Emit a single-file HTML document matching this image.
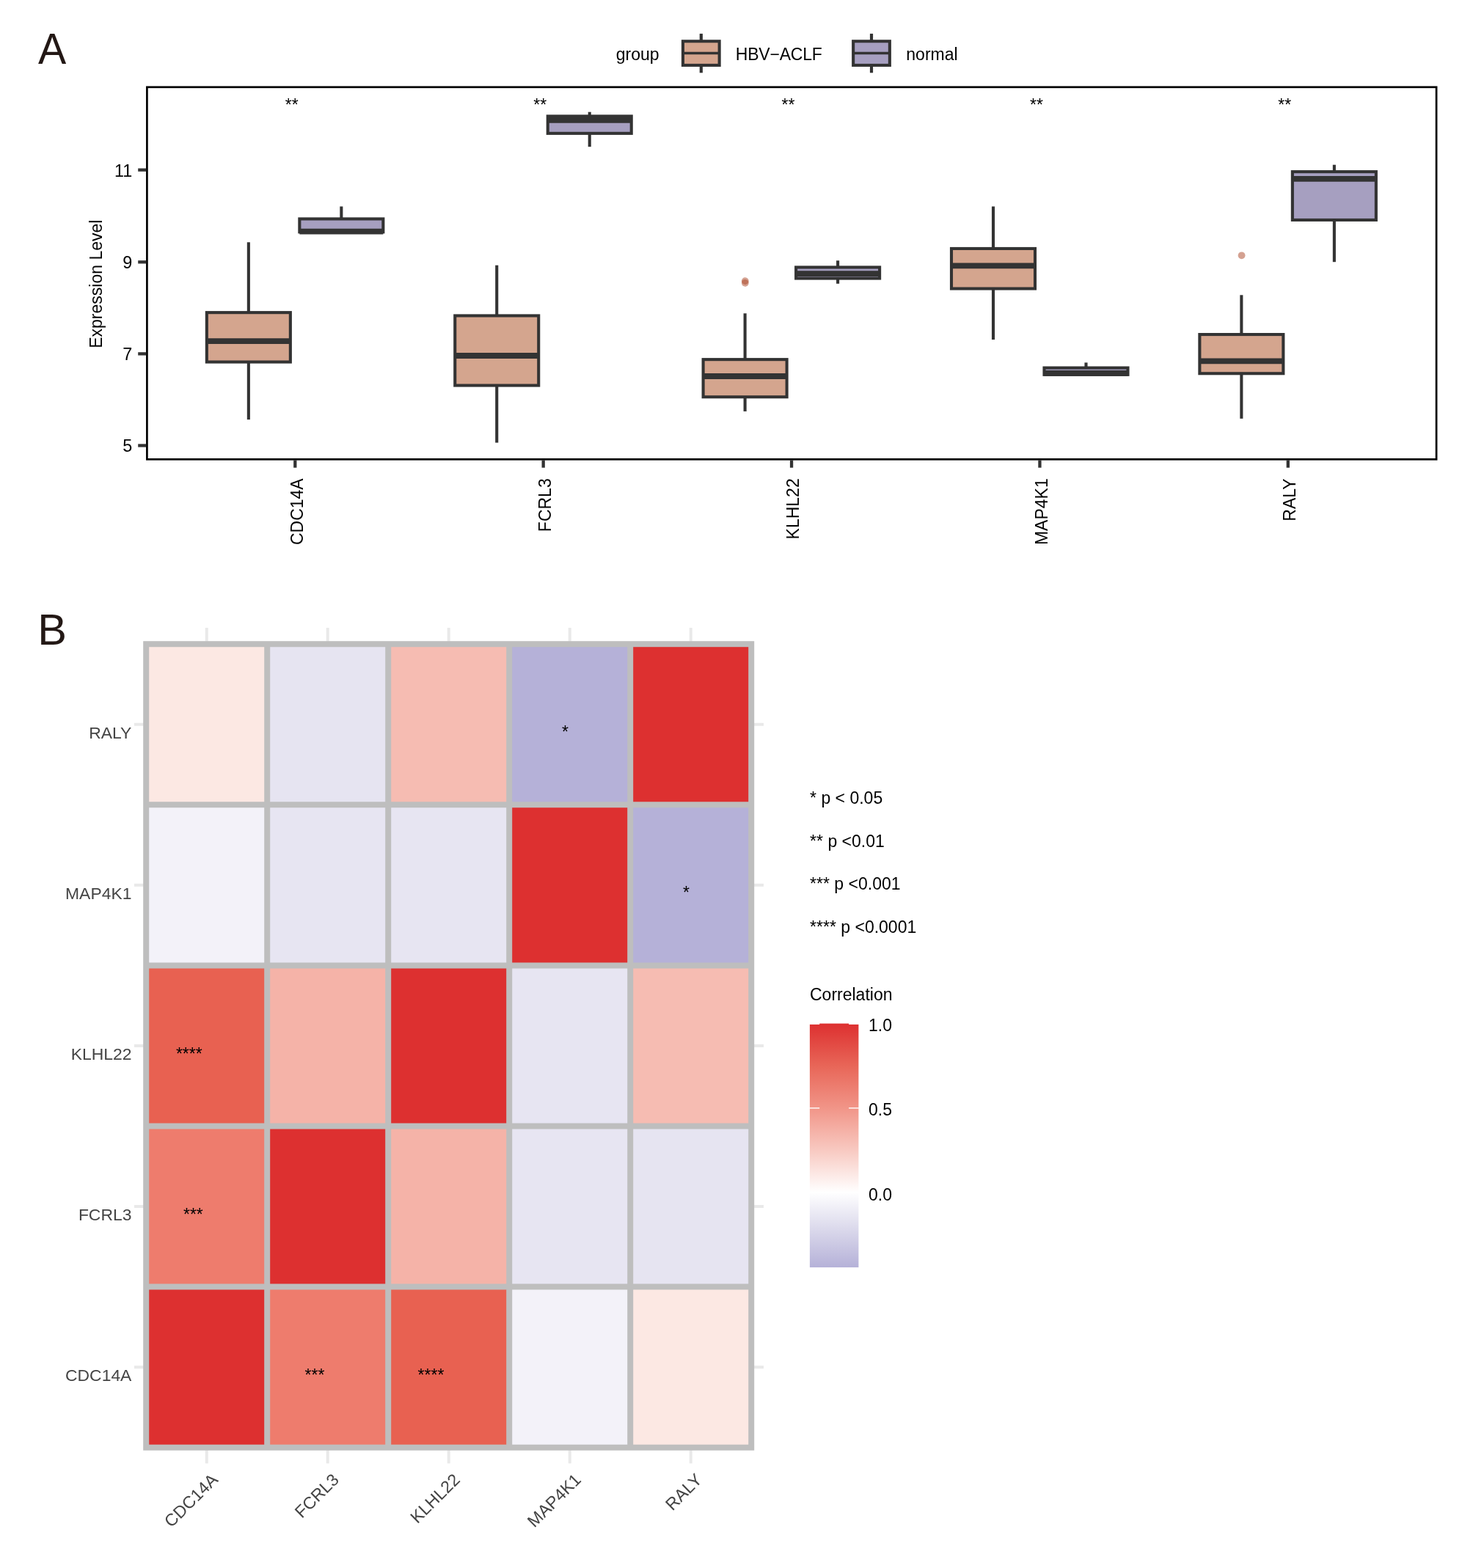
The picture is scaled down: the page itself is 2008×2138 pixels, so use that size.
<!DOCTYPE html>
<html lang="en">
<head>
<meta charset="utf-8">
<title>Figure</title>
<style>html,body{margin:0;padding:0;background:#fff;}body{width:2008px;height:2138px;}svg{display:block;}</style>
</head>
<body>
<svg width="2008" height="2138" viewBox="0 0 2008 2138" font-family='"Liberation Sans", sans-serif' font-size="23.0">
<rect width="2008" height="2138" fill="#ffffff"/>
<text transform="translate(51.9,87.3) scale(0.96,1)" font-size="59.8" fill="#231815">A</text>
<text x="51.3" y="878.6" font-size="59.6" fill="#231815">B</text>
<text x="839.8" y="82.3" fill="#000">group</text>
<line x1="955.8" y1="45.9" x2="955.8" y2="99.3" stroke="#333333" stroke-width="4.2"/>
<rect x="930.95" y="56.25" width="49.7" height="32.7" fill="#D4A58E" stroke="#333333" stroke-width="4.1"/>
<line x1="930.95" y1="72.5" x2="980.65" y2="72.5" stroke="#333333" stroke-width="3.4"/>
<line x1="1188.0" y1="45.9" x2="1188.0" y2="99.3" stroke="#333333" stroke-width="4.2"/>
<rect x="1163.15" y="56.25" width="49.7" height="32.7" fill="#A69FC0" stroke="#333333" stroke-width="4.1"/>
<line x1="1163.15" y1="72.5" x2="1212.85" y2="72.5" stroke="#333333" stroke-width="3.4"/>
<text x="1002.8" y="82.3" letter-spacing="-0.2" fill="#000">HBV−ACLF</text>
<text x="1235.3" y="82.3" fill="#000">normal</text>
<line x1="338.85" y1="330.3" x2="338.85" y2="426.15" stroke="#333333" stroke-width="4.1"/>
<line x1="338.85" y1="493.55" x2="338.85" y2="572.1" stroke="#333333" stroke-width="4.1"/>
<rect x="281.85" y="426.15" width="114.0" height="67.40" fill="#D4A58E" stroke="#333333" stroke-width="4.1"/>
<line x1="281.85" y1="465.2" x2="395.85" y2="465.2" stroke="#333333" stroke-width="7.8"/>
<line x1="465.35" y1="281.5" x2="465.35" y2="298.45" stroke="#333333" stroke-width="4.1"/>
<rect x="408.35" y="298.45" width="114.0" height="17.90" fill="#A69FC0" stroke="#333333" stroke-width="4.1"/>
<line x1="408.35" y1="315.6" x2="522.35" y2="315.6" stroke="#333333" stroke-width="7.8"/>
<line x1="677.23" y1="361.7" x2="677.23" y2="430.45" stroke="#333333" stroke-width="4.1"/>
<line x1="677.23" y1="525.55" x2="677.23" y2="603.6" stroke="#333333" stroke-width="4.1"/>
<rect x="620.23" y="430.45" width="114.0" height="95.10" fill="#D4A58E" stroke="#333333" stroke-width="4.1"/>
<line x1="620.23" y1="485.0" x2="734.23" y2="485.0" stroke="#333333" stroke-width="7.8"/>
<line x1="803.73" y1="152.7" x2="803.73" y2="158.45" stroke="#333333" stroke-width="4.1"/>
<line x1="803.73" y1="181.85" x2="803.73" y2="200.1" stroke="#333333" stroke-width="4.1"/>
<rect x="746.73" y="158.45" width="114.0" height="23.40" fill="#A69FC0" stroke="#333333" stroke-width="4.1"/>
<line x1="746.73" y1="163.8" x2="860.73" y2="163.8" stroke="#333333" stroke-width="7.8"/>
<line x1="1015.61" y1="427.3" x2="1015.61" y2="490.15" stroke="#333333" stroke-width="4.1"/>
<line x1="1015.61" y1="541.25" x2="1015.61" y2="560.9" stroke="#333333" stroke-width="4.1"/>
<rect x="958.61" y="490.15" width="114.0" height="51.10" fill="#D4A58E" stroke="#333333" stroke-width="4.1"/>
<line x1="958.61" y1="513.0" x2="1072.61" y2="513.0" stroke="#333333" stroke-width="7.8"/>
<line x1="1142.11" y1="355.3" x2="1142.11" y2="364.45" stroke="#333333" stroke-width="4.1"/>
<line x1="1142.11" y1="379.55" x2="1142.11" y2="386.8" stroke="#333333" stroke-width="4.1"/>
<rect x="1085.11" y="364.45" width="114.0" height="15.10" fill="#A69FC0" stroke="#333333" stroke-width="4.1"/>
<line x1="1085.11" y1="373.2" x2="1199.11" y2="373.2" stroke="#333333" stroke-width="7.8"/>
<line x1="1353.99" y1="281.5" x2="1353.99" y2="338.95" stroke="#333333" stroke-width="4.1"/>
<line x1="1353.99" y1="393.55" x2="1353.99" y2="463.1" stroke="#333333" stroke-width="4.1"/>
<rect x="1296.99" y="338.95" width="114.0" height="54.60" fill="#D4A58E" stroke="#333333" stroke-width="4.1"/>
<line x1="1296.99" y1="362.3" x2="1410.99" y2="362.3" stroke="#333333" stroke-width="7.8"/>
<line x1="1480.49" y1="494.4" x2="1480.49" y2="501.55" stroke="#333333" stroke-width="4.1"/>
<rect x="1423.49" y="501.55" width="114.0" height="9.30" fill="#A69FC0" stroke="#333333" stroke-width="4.1"/>
<line x1="1423.49" y1="508.9" x2="1537.49" y2="508.9" stroke="#333333" stroke-width="7.8"/>
<line x1="1692.37" y1="402.3" x2="1692.37" y2="456.05" stroke="#333333" stroke-width="4.1"/>
<line x1="1692.37" y1="509.25" x2="1692.37" y2="570.8" stroke="#333333" stroke-width="4.1"/>
<rect x="1635.37" y="456.05" width="114.0" height="53.20" fill="#D4A58E" stroke="#333333" stroke-width="4.1"/>
<line x1="1635.37" y1="492.4" x2="1749.37" y2="492.4" stroke="#333333" stroke-width="7.8"/>
<line x1="1818.87" y1="224.7" x2="1818.87" y2="234.15" stroke="#333333" stroke-width="4.1"/>
<line x1="1818.87" y1="299.95" x2="1818.87" y2="357.2" stroke="#333333" stroke-width="4.1"/>
<rect x="1761.87" y="234.15" width="114.0" height="65.80" fill="#A69FC0" stroke="#333333" stroke-width="4.1"/>
<line x1="1761.87" y1="243.9" x2="1875.87" y2="243.9" stroke="#333333" stroke-width="7.8"/>
<circle cx="1015.8" cy="383.1" r="4.9" fill="#AA4424" fill-opacity="0.5"/>
<circle cx="1015.8" cy="385.8" r="4.9" fill="#AA4424" fill-opacity="0.5"/>
<circle cx="1692.6" cy="348.3" r="4.9" fill="#AA4424" fill-opacity="0.5"/>
<text x="397.80" y="150.8" text-anchor="middle" fill="#000">**</text>
<text x="736.18" y="150.8" text-anchor="middle" fill="#000">**</text>
<text x="1074.56" y="150.8" text-anchor="middle" fill="#000">**</text>
<text x="1412.94" y="150.8" text-anchor="middle" fill="#000">**</text>
<text x="1751.32" y="150.8" text-anchor="middle" fill="#000">**</text>
<rect x="200.4" y="118.8" width="1757.70" height="507.50" fill="none" stroke="#000" stroke-width="2.7"/>
<line x1="188.2" y1="231.7" x2="199.3" y2="231.7" stroke="#333333" stroke-width="4.3"/>
<text x="180.3" y="240.60" text-anchor="end" font-size="23.4" fill="#000">11</text>
<line x1="188.2" y1="357.3" x2="199.3" y2="357.3" stroke="#333333" stroke-width="4.3"/>
<text x="180.3" y="366.20" text-anchor="end" font-size="23.4" fill="#000">9</text>
<line x1="188.2" y1="482.4" x2="199.3" y2="482.4" stroke="#333333" stroke-width="4.3"/>
<text x="180.3" y="491.30" text-anchor="end" font-size="23.4" fill="#000">7</text>
<line x1="188.2" y1="607.5" x2="199.3" y2="607.5" stroke="#333333" stroke-width="4.3"/>
<text x="180.3" y="616.40" text-anchor="end" font-size="23.4" fill="#000">5</text>
<text transform="translate(138.5,387.2) rotate(-90)" text-anchor="middle" fill="#000">Expression Level</text>
<line x1="402.30" y1="627.4" x2="402.30" y2="637.7" stroke="#333333" stroke-width="4.3"/>
<text transform="translate(412.60,652.3) rotate(-90)" text-anchor="end" fill="#000">CDC14A</text>
<line x1="740.68" y1="627.4" x2="740.68" y2="637.7" stroke="#333333" stroke-width="4.3"/>
<text transform="translate(750.98,652.3) rotate(-90)" text-anchor="end" fill="#000">FCRL3</text>
<line x1="1079.06" y1="627.4" x2="1079.06" y2="637.7" stroke="#333333" stroke-width="4.3"/>
<text transform="translate(1089.36,652.3) rotate(-90)" text-anchor="end" fill="#000">KLHL22</text>
<line x1="1417.44" y1="627.4" x2="1417.44" y2="637.7" stroke="#333333" stroke-width="4.3"/>
<text transform="translate(1427.74,652.3) rotate(-90)" text-anchor="end" fill="#000">MAP4K1</text>
<line x1="1755.82" y1="627.4" x2="1755.82" y2="637.7" stroke="#333333" stroke-width="4.3"/>
<text transform="translate(1766.12,652.3) rotate(-90)" text-anchor="end" fill="#000">RALY</text>
<line x1="281.70" y1="856.0" x2="281.70" y2="875" stroke="#E9E9E9" stroke-width="4.0"/>
<line x1="281.70" y1="1977" x2="281.70" y2="1995.4" stroke="#E9E9E9" stroke-width="4.0"/>
<line x1="446.70" y1="856.0" x2="446.70" y2="875" stroke="#E9E9E9" stroke-width="4.0"/>
<line x1="446.70" y1="1977" x2="446.70" y2="1995.4" stroke="#E9E9E9" stroke-width="4.0"/>
<line x1="611.70" y1="856.0" x2="611.70" y2="875" stroke="#E9E9E9" stroke-width="4.0"/>
<line x1="611.70" y1="1977" x2="611.70" y2="1995.4" stroke="#E9E9E9" stroke-width="4.0"/>
<line x1="776.70" y1="856.0" x2="776.70" y2="875" stroke="#E9E9E9" stroke-width="4.0"/>
<line x1="776.70" y1="1977" x2="776.70" y2="1995.4" stroke="#E9E9E9" stroke-width="4.0"/>
<line x1="941.70" y1="856.0" x2="941.70" y2="875" stroke="#E9E9E9" stroke-width="4.0"/>
<line x1="941.70" y1="1977" x2="941.70" y2="1995.4" stroke="#E9E9E9" stroke-width="4.0"/>
<line x1="183.0" y1="987.75" x2="196" y2="987.75" stroke="#E9E9E9" stroke-width="4.0"/>
<line x1="1028" y1="987.75" x2="1041.0" y2="987.75" stroke="#E9E9E9" stroke-width="4.0"/>
<line x1="183.0" y1="1206.85" x2="196" y2="1206.85" stroke="#E9E9E9" stroke-width="4.0"/>
<line x1="1028" y1="1206.85" x2="1041.0" y2="1206.85" stroke="#E9E9E9" stroke-width="4.0"/>
<line x1="183.0" y1="1425.95" x2="196" y2="1425.95" stroke="#E9E9E9" stroke-width="4.0"/>
<line x1="1028" y1="1425.95" x2="1041.0" y2="1425.95" stroke="#E9E9E9" stroke-width="4.0"/>
<line x1="183.0" y1="1645.05" x2="196" y2="1645.05" stroke="#E9E9E9" stroke-width="4.0"/>
<line x1="1028" y1="1645.05" x2="1041.0" y2="1645.05" stroke="#E9E9E9" stroke-width="4.0"/>
<line x1="183.0" y1="1864.15" x2="196" y2="1864.15" stroke="#E9E9E9" stroke-width="4.0"/>
<line x1="1028" y1="1864.15" x2="1041.0" y2="1864.15" stroke="#E9E9E9" stroke-width="4.0"/>
<rect x="199.20" y="878.20" width="165.0" height="219.1" fill="#FCE8E3"/>
<rect x="364.20" y="878.20" width="165.0" height="219.1" fill="#E6E4F1"/>
<rect x="529.20" y="878.20" width="165.0" height="219.1" fill="#F6BCB2"/>
<rect x="694.20" y="878.20" width="165.0" height="219.1" fill="#B5B1D8"/>
<rect x="859.20" y="878.20" width="165.0" height="219.1" fill="#DD3030"/>
<rect x="199.20" y="1097.30" width="165.0" height="219.1" fill="#F3F2F9"/>
<rect x="364.20" y="1097.30" width="165.0" height="219.1" fill="#E7E5F2"/>
<rect x="529.20" y="1097.30" width="165.0" height="219.1" fill="#E7E5F2"/>
<rect x="694.20" y="1097.30" width="165.0" height="219.1" fill="#DD3030"/>
<rect x="859.20" y="1097.30" width="165.0" height="219.1" fill="#B5B1D8"/>
<rect x="199.20" y="1316.40" width="165.0" height="219.1" fill="#E86151"/>
<rect x="364.20" y="1316.40" width="165.0" height="219.1" fill="#F5B3A8"/>
<rect x="529.20" y="1316.40" width="165.0" height="219.1" fill="#DD3030"/>
<rect x="694.20" y="1316.40" width="165.0" height="219.1" fill="#E7E5F2"/>
<rect x="859.20" y="1316.40" width="165.0" height="219.1" fill="#F6BCB2"/>
<rect x="199.20" y="1535.50" width="165.0" height="219.1" fill="#EE7C6D"/>
<rect x="364.20" y="1535.50" width="165.0" height="219.1" fill="#DD3030"/>
<rect x="529.20" y="1535.50" width="165.0" height="219.1" fill="#F5B3A8"/>
<rect x="694.20" y="1535.50" width="165.0" height="219.1" fill="#E7E5F2"/>
<rect x="859.20" y="1535.50" width="165.0" height="219.1" fill="#E6E4F1"/>
<rect x="199.20" y="1754.60" width="165.0" height="219.1" fill="#DD3030"/>
<rect x="364.20" y="1754.60" width="165.0" height="219.1" fill="#EE7C6D"/>
<rect x="529.20" y="1754.60" width="165.0" height="219.1" fill="#E86151"/>
<rect x="694.20" y="1754.60" width="165.0" height="219.1" fill="#F3F2F9"/>
<rect x="859.20" y="1754.60" width="165.0" height="219.1" fill="#FCE8E3"/>
<line x1="364.20" y1="878.20" x2="364.20" y2="1973.70" stroke="#BEBEBE" stroke-width="8.0"/>
<line x1="529.20" y1="878.20" x2="529.20" y2="1973.70" stroke="#BEBEBE" stroke-width="8.0"/>
<line x1="694.20" y1="878.20" x2="694.20" y2="1973.70" stroke="#BEBEBE" stroke-width="8.0"/>
<line x1="859.20" y1="878.20" x2="859.20" y2="1973.70" stroke="#BEBEBE" stroke-width="8.0"/>
<line x1="199.20" y1="1097.30" x2="1024.20" y2="1097.30" stroke="#BEBEBE" stroke-width="8.0"/>
<line x1="199.20" y1="1316.40" x2="1024.20" y2="1316.40" stroke="#BEBEBE" stroke-width="8.0"/>
<line x1="199.20" y1="1535.50" x2="1024.20" y2="1535.50" stroke="#BEBEBE" stroke-width="8.0"/>
<line x1="199.20" y1="1754.60" x2="1024.20" y2="1754.60" stroke="#BEBEBE" stroke-width="8.0"/>
<rect x="199.20" y="878.20" width="825.00" height="1095.50" fill="none" stroke="#BEBEBE" stroke-width="8.0"/>
<text x="179.4" y="1006.95" text-anchor="end" font-size="22.9" fill="#444444">RALY</text>
<text x="179.4" y="1226.05" text-anchor="end" font-size="22.9" fill="#444444">MAP4K1</text>
<text x="179.4" y="1445.15" text-anchor="end" font-size="22.9" fill="#444444">KLHL22</text>
<text x="179.4" y="1664.25" text-anchor="end" font-size="22.9" fill="#444444">FCRL3</text>
<text x="179.4" y="1883.35" text-anchor="end" font-size="22.9" fill="#444444">CDC14A</text>
<text transform="translate(286.30,2007.0) rotate(-45)" text-anchor="end" dy="17" font-size="23.2" fill="#444444">CDC14A</text>
<text transform="translate(451.30,2007.0) rotate(-45)" text-anchor="end" dy="17" font-size="23.2" fill="#444444">FCRL3</text>
<text transform="translate(616.30,2007.0) rotate(-45)" text-anchor="end" dy="17" font-size="23.2" fill="#444444">KLHL22</text>
<text transform="translate(781.30,2007.0) rotate(-45)" text-anchor="end" dy="17" font-size="23.2" fill="#444444">MAP4K1</text>
<text transform="translate(946.30,2007.0) rotate(-45)" text-anchor="end" dy="17" font-size="23.2" fill="#444444">RALY</text>
<text x="257.8" y="1444.80" text-anchor="middle" fill="#000">****</text>
<text x="263.4" y="1663.60" text-anchor="middle" fill="#000">***</text>
<text x="429.0" y="1882.90" text-anchor="middle" fill="#000">***</text>
<text x="587.5" y="1882.90" text-anchor="middle" fill="#000">****</text>
<text x="770.6" y="1006.10" text-anchor="middle" fill="#000">*</text>
<text x="935.6" y="1225.40" text-anchor="middle" fill="#000">*</text>
<text x="1104.1" y="1096.2" fill="#000">* p &lt; 0.05</text>
<text x="1104.1" y="1154.7" fill="#000">** p &lt;0.01</text>
<text x="1104.1" y="1213.3" fill="#000">*** p &lt;0.001</text>
<text x="1104.1" y="1271.6" fill="#000">**** p &lt;0.0001</text>
<text x="1104.0" y="1363.8" fill="#000">Correlation</text>
<defs><linearGradient id="cb" x1="0" y1="0" x2="0" y2="1"><stop offset="0" stop-color="#DD3030"/><stop offset="0.1743" stop-color="#E86658"/><stop offset="0.3468" stop-color="#F19588"/><stop offset="0.5192" stop-color="#F8C9C1"/><stop offset="0.6917" stop-color="#FFFFFF"/><stop offset="0.846" stop-color="#DAD8EB"/><stop offset="1" stop-color="#B5B1D8"/></linearGradient></defs>
<rect x="1103.9" y="1395.6" width="66.5" height="332.5" fill="url(#cb)"/>
<line x1="1103.4" y1="1395.7" x2="1117.2" y2="1395.7" stroke="#fff" stroke-width="2.4"/>
<line x1="1157.1" y1="1395.7" x2="1170.9" y2="1395.7" stroke="#fff" stroke-width="2.4"/>
<line x1="1103.4" y1="1510.9" x2="1117.2" y2="1510.9" stroke="#fff" stroke-width="1.4"/>
<line x1="1157.1" y1="1510.9" x2="1170.9" y2="1510.9" stroke="#fff" stroke-width="1.4"/>
<line x1="1103.4" y1="1625.6" x2="1117.2" y2="1625.6" stroke="#fff" stroke-width="1.4"/>
<line x1="1157.1" y1="1625.6" x2="1170.9" y2="1625.6" stroke="#fff" stroke-width="1.4"/>
<text x="1184.0" y="1406.30" fill="#000">1.0</text>
<text x="1184.0" y="1521.20" fill="#000">0.5</text>
<text x="1184.0" y="1636.70" fill="#000">0.0</text>
</svg>
</body>
</html>
